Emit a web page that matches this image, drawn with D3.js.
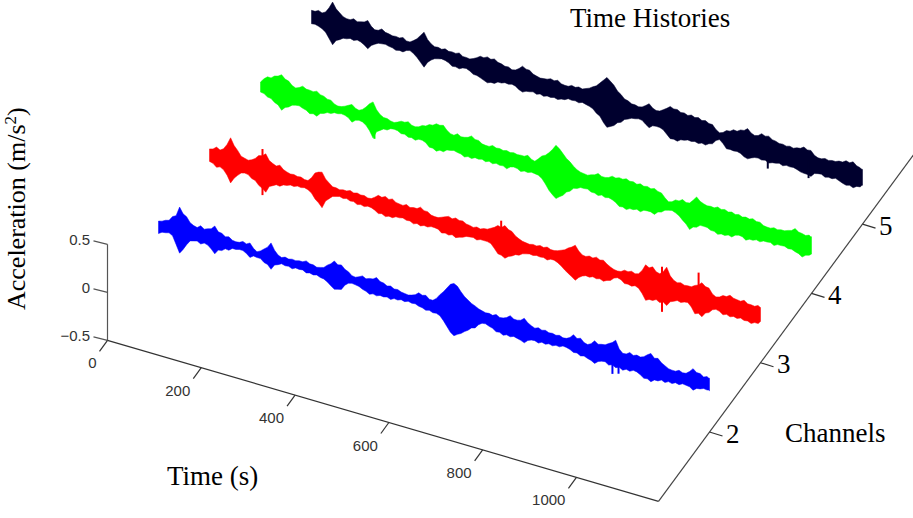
<!DOCTYPE html>
<html>
<head>
<meta charset="utf-8">
<script src="https://cdn.jsdelivr.net/npm/d3@7"></script>
<style>
  html, body { margin: 0; padding: 0; background: #fff; }
  svg { display: block; }
  .serif { font-family: "Liberation Serif", serif; font-size: 27px; fill: #000; }
  .tick-label { font-family: "Liberation Sans", sans-serif; font-size: 15px; fill: #333; }
</style>
</head>
<body>
<div id="chart"></div>
<script>
// sample times (s) of the read-off envelopes
var times = [0,15,30,45,60,75,90,105,120,135,150,165,180,195,210,225,240,255,270,285,
  300,315,330,345,360,375,390,405,420,435,450,465,480,495,510,525,540,555,570,585,
  600,615,630,645,660,675,690,705,720,735,750,765,780,795,810,825,840,855,870,885,
  900,915,930,945,960,975,990,1005,1020,1035,1050,1065,1080,1095,1110,1125,1140,1155,1170,1175];

// upper / lower envelope of each channel's acceleration (m/s^2) at those times
var ch2Hi = [.02,.05,.11,.23,.15,.08,.10,.09,.14,.085,.07,.04,.065,.07,0,.05,.135,.03,.03,.03,
  .035,.055,.035,.03,.075,.14,.12,.07,.035,.07,.065,.095,.06,.05,.035,.015,.02,.065,.06,.03,
  .11,.20,.27,.205,.14,.10,.07,.065,.075,.06,.105,.08,.12,.065,.065,.06,.05,.05,.04,.10,
  .085,.04,.10,.085,.115,.17,.055,.085,.08,.085,.14,.11,.055,.03,.05,.04,.11,.08,.07,.06];
var ch2Lo = [-.11,-.08,-.09,-.25,-.14,-.08,-.09,-.08,-.15,-.095,-.07,-.04,-.03,-.08,-.06,-.09,-.14,-.07,-.06,-.07,
  -.055,-.07,-.07,-.075,-.10,-.155,-.135,-.05,-.045,-.07,-.10,-.095,-.085,-.09,-.075,-.07,-.065,-.075,-.095,-.10,
  -.11,-.20,-.275,-.23,-.175,-.13,-.06,-.07,-.105,-.12,-.115,-.11,-.135,-.085,-.095,-.085,-.08,-.07,-.055,-.085,
  -.10,-.105,-.135,-.09,-.11,-.115,-.12,-.11,-.095,-.14,-.155,-.125,-.12,-.11,-.10,-.085,-.115,-.08,-.07,-.07];

var ch3Hi = [.05,.09,.095,.23,.12,.06,.065,.13,.17,.09,.095,.045,.04,.035,.02,.12,.15,.06,.03,.03,
  .045,.04,.035,.025,.08,.09,.085,.055,.07,.06,.085,.06,.03,.045,.075,.08,.07,.045,.05,.055,
  .08,.13,.15,.11,.055,.035,.04,.05,.055,.04,.065,.11,.16,.08,.09,.10,.09,.04,.02,.05,
  .06,.055,.17,.17,.12,.21,.095,.09,.08,.105,.155,.12,.05,.085,.11,.085,.10,.075,.09,.075];
var ch3Lo = [-.08,-.12,-.125,-.24,-.14,-.095,-.13,-.18,-.23,-.14,-.125,-.095,-.085,-.075,-.075,-.15,-.22,-.105,-.06,-.06,
  -.065,-.08,-.08,-.07,-.11,-.12,-.11,-.09,-.095,-.11,-.11,-.10,-.085,-.12,-.12,-.125,-.10,-.075,-.085,-.07,
  -.08,-.165,-.19,-.145,-.115,-.08,-.075,-.07,-.08,-.06,-.10,-.155,-.205,-.14,-.13,-.125,-.13,-.10,-.05,-.09,
  -.095,-.095,-.20,-.18,-.18,-.19,-.125,-.115,-.095,-.19,-.20,-.135,-.08,-.115,-.115,-.11,-.11,-.12,-.10,-.07];

var ch4Hi = [.025,.10,.13,.165,.12,.07,.11,.09,.10,.07,.05,.01,.03,.07,.03,.085,.16,.05,.03,.01,
  .045,.06,.03,.065,.095,.125,.13,.065,.085,.07,.105,.08,.05,.07,.06,.06,.06,.055,.075,.035,
  .11,.165,.265,.20,.135,.075,.055,.065,.10,.08,.115,.12,.13,.12,.12,.115,.115,.09,.02,.06,
  .085,.07,.155,.105,.10,.115,.11,.105,.10,.095,.10,.085,.055,.07,.07,.085,.125,.095,.10,.09];
var ch4Lo = [-.08,-.11,-.145,-.205,-.15,-.11,-.12,-.155,-.16,-.11,-.09,-.07,-.065,-.115,-.075,-.105,-.215,-.115,-.09,-.06,
  -.085,-.10,-.11,-.09,-.14,-.16,-.145,-.11,-.11,-.135,-.13,-.115,-.12,-.12,-.115,-.13,-.09,-.115,-.105,-.095,
  -.125,-.225,-.29,-.235,-.17,-.12,-.10,-.115,-.13,-.13,-.13,-.18,-.19,-.17,-.17,-.14,-.155,-.11,-.07,-.075,
  -.13,-.205,-.16,-.13,-.15,-.17,-.16,-.155,-.115,-.145,-.125,-.12,-.10,-.115,-.095,-.105,-.115,-.15,-.11,-.09];

var ch5Hi = [.05,.07,.075,.20,.11,.07,.09,.08,.115,.04,.07,.04,.035,.045,.02,.075,.165,.065,.05,.055,
  .045,.055,.03,.04,.085,.10,.10,.07,.06,.05,.11,.09,.05,.045,.065,.07,.04,.06,.065,.07,
  .11,.17,.25,.19,.115,.07,.05,.05,.105,.055,.085,.14,.13,.115,.115,.11,.10,.08,.015,.06,
  .09,.11,.145,.095,.135,.13,.10,.09,.09,.095,.125,.11,.055,.07,.07,.085,.11,.12,.08,.07];
var ch5Lo = [-.09,-.095,-.135,-.245,-.17,-.14,-.135,-.13,-.18,-.11,-.085,-.09,-.11,-.105,-.07,-.12,-.20,-.105,-.07,-.065,
  -.105,-.11,-.085,-.125,-.14,-.17,-.155,-.13,-.12,-.12,-.16,-.135,-.14,-.14,-.13,-.13,-.11,-.095,-.10,-.095,
  -.12,-.175,-.27,-.23,-.175,-.12,-.095,-.09,-.145,-.11,-.125,-.195,-.20,-.17,-.16,-.16,-.155,-.12,-.055,-.13,
  -.13,-.135,-.17,-.135,-.14,-.15,-.13,-.135,-.125,-.13,-.15,-.16,-.11,-.125,-.12,-.12,-.145,-.15,-.12,-.095];

// second reading, half way between the times above (the notches of the noise band)
var ch2HiMid = [.03,.06,.13,.17,.10,.07,.075,.10,.09,.06,.045,.045,.05,.025,.02,.08,.07,.015,.02,.025,
  .035,.035,.02,.04,.10,.11,.085,.04,.05,.05,.07,.065,.04,.03,.02,.01,.035,.05,.03,.06,
  .15,.25,.25,.165,.115,.08,.06,.055,.055,.075,.08,.09,.085,.05,.05,.045,.04,.035,.06,.07,
  .05,.06,.075,.09,.135,.09,.06,.065,.07,.115,.10,.075,.035,.03,.035,.07,.08,.055,.06];
var ch2LoMid = [-.085,-.07,-.17,-.20,-.09,-.07,-.07,-.11,-.10,-.065,-.04,-.03,-.05,-.055,-.06,-.10,-.085,-.05,-.055,-.05,
  -.05,-.06,-.06,-.08,-.13,-.145,-.08,-.04,-.05,-.08,-.085,-.08,-.075,-.07,-.06,-.055,-.06,-.08,-.085,-.095,
  -.15,-.25,-.25,-.20,-.14,-.085,-.055,-.08,-.10,-.105,-.10,-.12,-.10,-.08,-.075,-.07,-.065,-.05,-.065,-.08,
  -.09,-.115,-.105,-.085,-.095,-.10,-.10,-.09,-.115,-.135,-.125,-.105,-.10,-.09,-.08,-.09,-.085,-.065,-.065];

var ch3HiMid = [.06,.07,.15,.16,.07,.05,.09,.14,.11,.075,.06,.035,.03,.02,.06,.14,.09,.03,.02,.03,
  .03,.03,.02,.05,.07,.07,.06,.05,.05,.06,.06,.035,.03,.06,.06,.065,.05,.035,.04,.06,
  .10,.12,.12,.075,.04,.03,.035,.04,.04,.05,.08,.13,.11,.075,.08,.08,.06,.025,.025,.045,
  .045,.10,.15,.13,.15,.13,.08,.075,.08,.12,.125,.07,.06,.085,.09,.08,.075,.07,.08];
var ch3LoMid = [-.09,-.105,-.17,-.18,-.105,-.10,-.14,-.20,-.16,-.12,-.10,-.08,-.07,-.065,-.10,-.18,-.14,-.07,-.05,-.05,
  -.06,-.07,-.065,-.085,-.10,-.105,-.09,-.08,-.09,-.095,-.095,-.085,-.09,-.11,-.105,-.11,-.08,-.07,-.07,-.07,
  -.12,-.17,-.16,-.12,-.09,-.07,-.065,-.065,-.06,-.075,-.13,-.18,-.165,-.125,-.115,-.115,-.11,-.065,-.06,-.085,
  -.08,-.14,-.18,-.16,-.165,-.14,-.105,-.10,-.13,-.175,-.15,-.095,-.09,-.10,-.10,-.095,-.105,-.10,-.085];

var ch4HiMid = [.07,.10,.14,.13,.085,.085,.09,.085,.075,.05,.02,.015,.05,.04,.05,.13,.09,.03,.015,.025,
  .045,.035,.04,.07,.10,.12,.09,.06,.065,.08,.08,.055,.05,.055,.05,.05,.05,.055,.045,.07,
  .13,.21,.24,.16,.10,.06,.05,.075,.08,.09,.105,.115,.115,.105,.105,.10,.095,.05,.03,.06,
  .065,.11,.12,.095,.095,.10,.095,.09,.085,.085,.08,.06,.055,.06,.07,.095,.10,.085,.09];
var ch4LoMid = [-.085,-.115,-.16,-.165,-.12,-.105,-.13,-.145,-.12,-.09,-.07,-.06,-.08,-.085,-.08,-.15,-.14,-.09,-.065,-.065,
  -.08,-.095,-.09,-.105,-.14,-.14,-.115,-.10,-.115,-.12,-.11,-.105,-.105,-.105,-.11,-.10,-.095,-.10,-.09,-.10,
  -.17,-.26,-.26,-.19,-.13,-.10,-.095,-.115,-.115,-.12,-.15,-.175,-.17,-.155,-.145,-.14,-.12,-.08,-.06,-.095,
  -.16,-.17,-.13,-.13,-.15,-.155,-.145,-.125,-.12,-.125,-.11,-.10,-.095,-.095,-.09,-.10,-.125,-.12,-.10];

var ch5HiMid = [.05,.055,.13,.14,.08,.07,.07,.09,.065,.045,.045,.03,.03,.02,.045,.12,.10,.045,.04,.04,
  .04,.03,.025,.06,.08,.085,.075,.055,.04,.075,.09,.06,.04,.05,.055,.045,.04,.05,.055,.085,
  .13,.21,.22,.14,.08,.05,.04,.075,.07,.06,.11,.125,.11,.10,.10,.09,.08,.04,.03,.065,
  .085,.115,.11,.105,.12,.105,.085,.08,.08,.10,.105,.07,.055,.06,.07,.085,.10,.09,.07];
var ch5LoMid = [-.085,-.11,-.19,-.19,-.145,-.125,-.12,-.15,-.135,-.09,-.08,-.095,-.10,-.08,-.09,-.16,-.14,-.08,-.06,-.08,
  -.10,-.09,-.10,-.125,-.155,-.155,-.13,-.115,-.11,-.145,-.14,-.125,-.125,-.125,-.12,-.115,-.09,-.09,-.085,-.105,
  -.155,-.23,-.25,-.19,-.135,-.10,-.085,-.12,-.115,-.11,-.16,-.19,-.175,-.155,-.15,-.145,-.13,-.075,-.085,-.125,
  -.125,-.16,-.15,-.13,-.13,-.135,-.12,-.12,-.12,-.145,-.15,-.12,-.105,-.115,-.105,-.135,-.135,-.125,-.105];

// narrow spikes the envelopes are too coarse for: [time, value]
var ch2Spikes = [[968,-.19],[981,-.17]];
var ch3Spikes = [[113,.21],[113,-.27],[622,.19],[965,.20],[965,-.27],[1043,.25]];
var ch4Spikes = [[243,-.22]];
var ch5Spikes = [[973,-.21],[1060,-.185]];

var timeTicks = [0,200,400,600,800,1000];
var channelTicks = [2,3,4,5];
var accelTicks = [-0.5,0,0.5];

var channels = [
  {ch: 5, hi: ch5Hi, lo: ch5Lo, hiMid: ch5HiMid, loMid: ch5LoMid, spikes: ch5Spikes, color: "#00002e"},
  {ch: 4, hi: ch4Hi, lo: ch4Lo, hiMid: ch4HiMid, loMid: ch4LoMid, spikes: ch4Spikes, color: "#00ff00"},
  {ch: 3, hi: ch3Hi, lo: ch3Lo, hiMid: ch3HiMid, loMid: ch3LoMid, spikes: ch3Spikes, color: "#ff0000"},
  {ch: 2, hi: ch2Hi, lo: ch2Lo, hiMid: ch2HiMid, loMid: ch2LoMid, spikes: ch2Spikes, color: "#0000ff"}
];

var width = 913, height = 518;

var svg = d3.select("#chart").append("svg")
    .attr("width", width)
    .attr("height", height);

// oblique view: every data axis gets its own x and y screen scale
var tX = d3.scaleLinear().domain([0, 1175]).range([107.5, 658.5]);
var tY = d3.scaleLinear().domain([0, 1175]).range([340.3, 501.3]);
var chX = d3.scaleLinear().domain([1, 6]).range([0, 255]);
var chY = d3.scaleLinear().domain([1, 6]).range([0, -346.5]);
var zY = d3.scaleLinear().domain([-0.5, 0.5]).range([0, -96]);

function px(t, ch) { return tX(t) + chX(ch); }
function py(t, ch, z) { return tY(t) + chY(ch) + zY(z); }

// put both readings in time order
function buildSamples(c) {
    var rows = [];
    times.forEach(function(t, i) {
        rows.push({t: t, hi: c.hi[i], lo: c.lo[i]});
        if (i < c.hiMid.length) {
            rows.push({t: (t + times[i + 1]) / 2, hi: c.hiMid[i], lo: c.loMid[i]});
        }
    });
    return rows;
}

// traces, back to front
channels.forEach(function(c) {
    var area = d3.area()
        .x(function(d) { return px(d.t, c.ch); })
        .y0(function(d) { return py(d.t, c.ch, d.lo); })
        .y1(function(d) { return py(d.t, c.ch, d.hi); });

    svg.append("path")
        .attr("d", area(buildSamples(c)))
        .attr("fill", c.color)
        .attr("stroke", c.color)
        .attr("stroke-width", 0.5)
        .attr("stroke-linejoin", "round");

    svg.selectAll(null)
        .data(c.spikes)
        .enter()
        .append("line")
            .attr("x1", function(d) { return px(d[0], c.ch); })
            .attr("x2", function(d) { return px(d[0], c.ch); })
            .attr("y1", function(d) { return py(d[0], c.ch, 0); })
            .attr("y2", function(d) { return py(d[0], c.ch, d[1]); })
            .attr("stroke", c.color)
            .attr("stroke-width", 2);
});

function axisLine(x1, y1, x2, y2, color) {
    svg.append("line")
        .attr("x1", x1).attr("y1", y1)
        .attr("x2", x2).attr("y2", y2)
        .attr("stroke", color)
        .attr("stroke-width", 1.2);
}

// acceleration axis
axisLine(px(0, 1), py(0, 1, -0.5), px(0, 1), py(0, 1, 0.5), "#555");
accelTicks.forEach(function(v) {
    var x = px(0, 1), y = py(0, 1, v);
    axisLine(x, y, x - 14, y - 3.5, "#555");
    svg.append("text")
        .attr("class", "tick-label")
        .attr("x", x - 17.5)
        .attr("y", y + 0.5)
        .attr("text-anchor", "end")
        .text(v < 0 ? "\u2212" + Math.abs(v) : v);
});

// time axis
axisLine(px(0, 1), py(0, 1, -0.5), px(1175, 1), py(1175, 1, -0.5), "#333");
timeTicks.forEach(function(t) {
    var x = px(t, 1), y = py(t, 1, -0.5);
    axisLine(x, y, x - 8, y + 11, "#333");
    svg.append("text")
        .attr("class", "tick-label")
        .attr("x", x - 11)
        .attr("y", y + 28)
        .attr("text-anchor", "end")
        .text(t);
});

// channel axis
axisLine(px(1175, 1), py(1175, 1, -0.5), px(1175, 6), py(1175, 6, -0.5), "#444");
channelTicks.forEach(function(ch) {
    var x = px(1175, ch), y = py(1175, ch, -0.5);
    axisLine(x, y, x + 13, y + 4, "#333");
    svg.append("text")
        .attr("class", "serif")
        .attr("x", x + 16.5)
        .attr("y", y + 10.5)
        .text(ch);
});

// titles
svg.append("text").attr("class", "serif").attr("x", 570).attr("y", 27).text("Time Histories");
svg.append("text").attr("class", "serif").attr("x", 167).attr("y", 485).text("Time (s)");
svg.append("text").attr("class", "serif").attr("x", 785).attr("y", 442).text("Channels");

var ylabel = svg.append("text")
    .attr("class", "serif")
    .style("font-size", "26px")
    .attr("transform", "translate(25,310) rotate(-90)")
    .text("Acceleration (m/s");
ylabel.append("tspan").attr("dy", -9).style("font-size", "17px").text("2");
ylabel.append("tspan").attr("dy", 9).text(")");
</script>
</body>
</html>
